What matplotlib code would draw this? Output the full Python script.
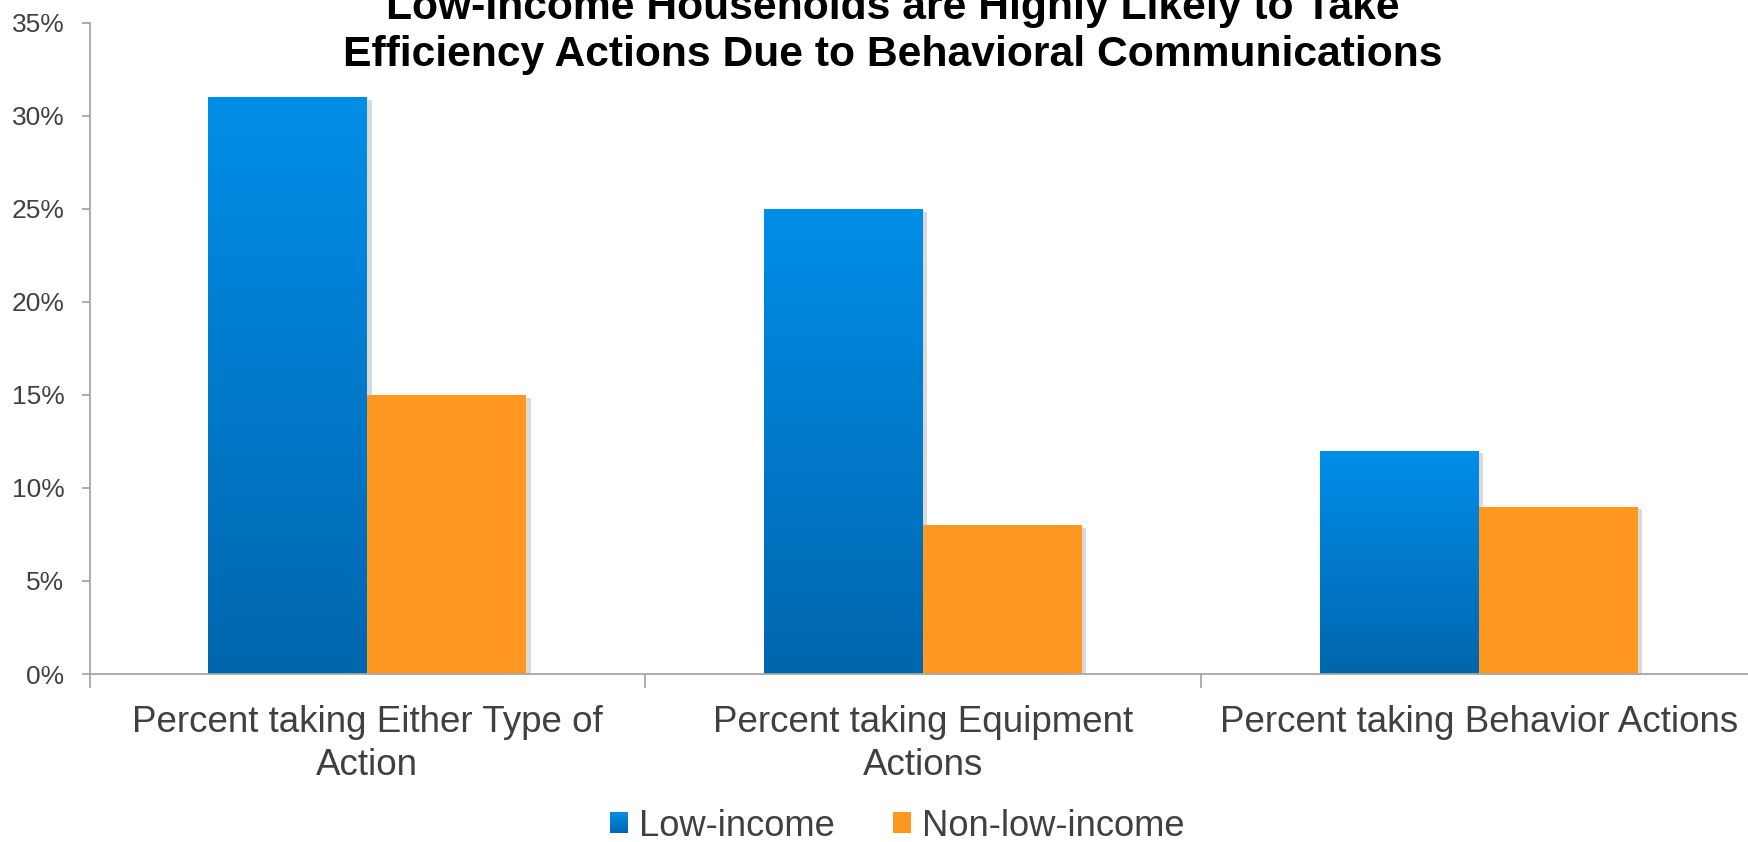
import numpy as np
import matplotlib
matplotlib.use('Agg')
import matplotlib.pyplot as plt
from matplotlib import patheffects as pe
from matplotlib.colors import LinearSegmentedColormap
from matplotlib.ticker import FuncFormatter, FixedLocator
from matplotlib.patches import Patch, Rectangle
from matplotlib.legend_handler import HandlerBase

categories = ["Percent taking Either Type of\nAction",
              "Percent taking Equipment\nActions",
              "Percent taking Behavior Actions"]
low_income = [31, 25, 12]
non_low_income = [15, 8, 9]
series_names = ["Low-income", "Non-low-income"]
title_lines = ["Low-Income Households are Highly Likely to Take",
               "Efficiency Actions Due to Behavioral Communications"]
y_ticks = [0, 5, 10, 15, 20, 25, 30, 35]

plt.rcParams['font.family'] = ['Liberation Sans', 'DejaVu Sans']

W, H = 1748, 842
fig = plt.figure(figsize=(W / 100, H / 100), dpi=100)
ax = fig.add_axes([89.5 / W, (H - 674) / H, (1757 - 89.5) / W, (674 - 22.7) / H])

axis_gray = '#A6A6A6'
text_gray = '#404040'
blue_top, blue_bot = '#008EE8', '#0066AE'
orange = '#FE9820'
cmap = LinearSegmentedColormap.from_list('bl', [blue_bot, blue_top])

x = np.arange(len(categories)) + 0.5
w = 0.286
shadow = [pe.SimplePatchShadow(offset=(3, -2), shadow_rgbFace='#777777', alpha=0.28), pe.Normal()]
b1 = ax.bar(x - w / 2, low_income, w, color=blue_top, path_effects=shadow, zorder=2, linewidth=0)
b2 = ax.bar(x + w / 2, non_low_income, w, color=orange, path_effects=shadow, zorder=2, linewidth=0)

grad = np.linspace(0, 1, 256).reshape(-1, 1)
for r in b1:
    x0, y0, ww, hh = r.get_x(), r.get_y(), r.get_width(), r.get_height()
    im = ax.imshow(grad, cmap=cmap, origin='lower', extent=[x0, x0 + ww, y0, y0 + hh],
                   aspect='auto', zorder=2.5, interpolation='bilinear')
    im.set_clip_path(r)

ax.set_xlim(0, 3)
ax.set_ylim(0, 35)

for s in ['top', 'right']:
    ax.spines[s].set_visible(False)
for s in ['left', 'bottom']:
    ax.spines[s].set_color(axis_gray)
    ax.spines[s].set_linewidth(1.3)

ax.yaxis.set_major_locator(FixedLocator(y_ticks))
ax.yaxis.set_major_formatter(FuncFormatter(lambda v, p: f"{v:.0f}%"))
ax.tick_params(axis='y', direction='out', length=6, width=1.3, color=axis_gray,
               labelsize=19, labelcolor=text_gray, pad=12)

ax.set_xticks(x)
ax.set_xticklabels(categories, linespacing=1.3)
ax.set_xticks([0, 1, 2, 3], minor=True)
ax.tick_params(axis='x', which='major', length=0, labelsize=26.5, labelcolor=text_gray, pad=22)
ax.tick_params(axis='x', which='minor', direction='out', length=10, width=1.3, color=axis_gray)

fig.text(893 / W, 1 - 8 / H, title_lines[0], ha='center', va='center',
         fontsize=30.7, fontweight='bold', color='black')
fig.text(893 / W, 1 - 55 / H, title_lines[1], ha='center', va='center',
         fontsize=30.7, fontweight='bold', color='black')


class GradientHandler(HandlerBase):
    def create_artists(self, legend, orig_handle, xdescent, ydescent, width, height, fontsize, trans):
        n = 12
        arts = []
        for i in range(n):
            c = cmap((i + 0.5) / n)
            arts.append(Rectangle((-xdescent, -ydescent + height * i / n), width, height / n + 0.3,
                                  facecolor=c, edgecolor='none', transform=trans))
        return arts


blue_handle = Patch(facecolor=blue_top, edgecolor='none')
orange_handle = Patch(facecolor=orange, edgecolor='none')
fig.legend([blue_handle, orange_handle], series_names, loc='center',
           bbox_to_anchor=(897 / W, 16 / H), ncol=2,
           frameon=False, fontsize=26.2, handlelength=0.5, handleheight=0.52, handletextpad=0.3,
           columnspacing=1.6, labelcolor=text_gray, borderpad=0,
           handler_map={blue_handle: GradientHandler()})

fig.savefig('out.png', dpi=100)
